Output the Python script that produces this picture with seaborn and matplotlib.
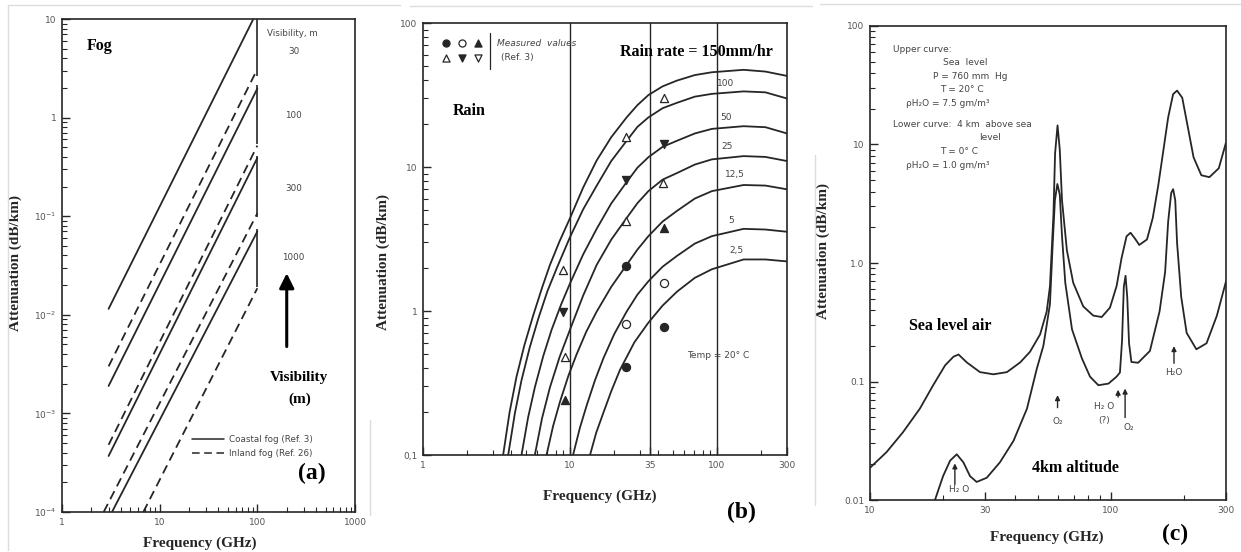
import numpy as np
import pandas as pd
import matplotlib.pyplot as plt
import seaborn as sns
from matplotlib.lines import Line2D
from matplotlib.ticker import FixedLocator, FixedFormatter, LogLocator, NullFormatter

sns.set_style('ticks')
plt.rcParams['font.family'] = ['DejaVu Sans']
plt.rcParams['mathtext.fontset'] = 'dejavusans'

INK = '#262626'
SERIF = 'Liberation Serif'

# ---------------- (a) fog : straight lines, end points
fog_visibility = ['30', '30', '100', '100', '300', '300', '1000', '1000']
fog_type = ['Coastal', 'Inland'] * 4
fog_f0 = [3.0, 3.0, 3.0, 3.0, 3.0, 2.67, 3.25, 6.8]
fog_a0 = [0.0115, 0.003, 0.0019, 4.8e-4, 3.7e-4, 1e-4, 1e-4, 1e-4]
fog_f1 = [91, 100, 100, 100, 100, 100, 100, 100]
fog_a1 = [10, 3.1, 1.97, 0.52, 0.39, 0.107, 0.07, 0.0186]
bracket_lo = [2.64, 0.54, 0.099, 0.019]
bracket_hi = [10, 2.14, 0.41, 0.074]
vis_labels = ['30', '100', '300', '1000']

# ---------------- (b) rain : attenuation curves per rain rate (mm/hr)
rain_rates = ['150', '100', '50', '25', '12,5', '5', '2,5']
f_150 = [3.51, 3.89, 4.33, 4.9, 5.62, 6.46, 7.31, 8.5, 10, 12.3, 15.2, 19.1, 24.3,
         28.8, 34.2, 42.7, 53.4, 70.8, 92.5, 152, 214, 300]
a_150 = [0.1, 0.2, 0.35, 0.58, 0.93, 1.45, 2.09, 3.05, 4.4, 7.2, 11.1, 16.1, 22.1,
         26.9, 31.6, 36.3, 39.8, 43.5, 45.5, 47.3, 46, 42.9]
f_100 = [3.8, 4.22, 4.68, 5.33, 6.08, 7.02, 8.11, 10, 12.3, 15.2, 19.1, 24.3, 28.8,
         34.2, 42.7, 53.4, 70.8, 92.5, 152, 214, 300]
a_100 = [0.1, 0.195, 0.33, 0.56, 0.88, 1.37, 1.97, 3.25, 5.08, 7.41, 11.0, 15.2, 19.0,
         22.1, 25.6, 27.9, 30.8, 32.2, 33.5, 33, 29.9]
f_50 = [4.68, 5.19, 5.77, 6.58, 7.5, 8.71, 10, 12.3, 15.2, 19.1, 24.3, 28.8, 34.2,
        42.7, 53.4, 70.8, 92.5, 152, 214, 300]
a_50 = [0.1, 0.182, 0.295, 0.486, 0.74, 1.11, 1.55, 2.47, 3.72, 5.58, 7.85, 9.89,
        11.7, 13.8, 15.2, 17.1, 18.4, 19.2, 18.9, 17.1]
f_25 = [5.77, 6.46, 7.31, 8.51, 10, 12.3, 15.2, 19.1, 24.3, 28.8, 34.2, 42.7, 53.4,
        70.8, 92.5, 152, 214, 300]
a_25 = [0.1, 0.18, 0.295, 0.48, 0.74, 1.28, 2.09, 3.13, 4.42, 5.61, 6.8, 8.17, 9.07,
        10.4, 11.3, 11.9, 11.75, 11.0]
f_12 = [6.93, 7.67, 8.55, 9.77, 11.1, 12.9, 15.2, 19.1, 24.3, 28.8, 34.2, 42.7, 53.4,
        70.8, 92.5, 152, 214, 300]
a_12 = [0.1, 0.158, 0.234, 0.356, 0.5, 0.716, 0.99, 1.47, 2.09, 2.67, 3.31, 4.18,
        4.95, 6.04, 6.8, 7.5, 7.43, 7.0]
f_5 = [10.5, 11.7, 13.0, 14.8, 16.9, 20, 24.3, 28.8, 34.2, 42.7, 53.4, 70.8, 92.5,
       152, 214, 300]
a_5 = [0.1, 0.155, 0.221, 0.33, 0.47, 0.69, 0.99, 1.30, 1.61, 2.03, 2.41, 2.94, 3.31,
       3.72, 3.68, 3.55]
f_2 = [13.7, 15.1, 16.9, 19.1, 21.9, 27.5, 34.2, 42.7, 53.4, 70.8, 92.5, 152, 214, 300]
a_2 = [0.1, 0.143, 0.197, 0.277, 0.39, 0.608, 0.83, 1.09, 1.36, 1.70, 1.95, 2.28,
       2.28, 2.21]
rain_f = [f_150, f_100, f_50, f_25, f_12, f_5, f_2]
rain_a = [a_150, a_100, a_50, a_25, a_12, a_5, a_2]
rate_labels = ['100', '50', '25', '12,5', '5', '2,5']

# measured values (Ref. 3)
meas_kind = ['o_full', 'o_full', 'o_full', 'o_open', 'o_open', '^_full', '^_full',
             '^_open', '^_open', '^_open', '^_open', '^_open', '^_open',
             'v_full', 'v_full', 'v_full']
meas_f = [24, 24, 44, 24, 44, 9.2, 44, 9.0, 9.2, 24, 24, 43, 44, 9.0, 24, 44]
meas_a = [2.04, 0.41, 0.78, 0.81, 1.57, 0.24, 3.8, 1.92, 0.48, 16.1, 4.2, 7.8, 30,
          0.98, 8.1, 14.5]

# ---------------- (c) atmospheric gases
sea_f = [10, 11.7, 13.7, 16.1, 18.3, 20.5, 22.2, 23.3, 25.2, 28.6, 32.5, 37.0, 42.0,
         46.1, 50.8, 54.1, 55.8, 57.7, 58.6, 60, 61.3, 62.6, 65.6, 69.7, 76.7, 84.4,
         91.5, 99, 105.5, 110.6, 116, 120.5, 125.9, 131, 141, 149, 157, 165, 172.6,
         181, 188, 197.5, 206, 220, 237, 256, 280, 300]
sea_a = [0.0187, 0.0253, 0.0373, 0.059, 0.0933, 0.137, 0.162, 0.169, 0.145, 0.12,
         0.115, 0.12, 0.145, 0.178, 0.25, 0.39, 0.635, 2.57, 8.4, 14.5, 9.0, 3.39,
         1.28, 0.68, 0.43, 0.36, 0.35, 0.42, 0.64, 1.1, 1.68, 1.8, 1.6, 1.42, 1.58,
         2.4, 4.5, 9.0, 16.9, 26.6, 28.5, 24.8, 15.8, 7.8, 5.5, 5.3, 6.3, 10.4]
alt_f = [18.6, 20.1, 21.5, 22.9, 24.4, 26, 27.7, 30.5, 34.6, 39.4, 44.8, 49.2, 52.4,
         54.1, 55.8, 57.3, 58.5, 59.9, 61.3, 62.6, 64.6, 68.9, 75.7, 81.8, 88.6, 97.6,
         105.5, 108.9, 111.1, 113, 114.9, 116.8, 118.8, 121.5, 129.6, 145, 159, 167.7,
         172.6, 177.7, 181, 184.7, 188, 195.6, 206, 226, 249, 275, 300]
alt_a = [0.01, 0.0159, 0.0215, 0.0243, 0.0208, 0.0159, 0.0142, 0.0154, 0.0208,
         0.0316, 0.059, 0.128, 0.2, 0.3, 0.45, 1.47, 3.39, 4.64, 3.78, 1.69, 0.68,
         0.275, 0.157, 0.11, 0.093, 0.096, 0.11, 0.119, 0.22, 0.63, 0.78, 0.51, 0.21,
         0.146, 0.144, 0.181, 0.39, 0.84, 2.23, 3.9, 4.2, 3.39, 1.47, 0.515, 0.257,
         0.187, 0.21, 0.36, 0.7]

fig = plt.figure(figsize=(12.41, 5.52), dpi=100)
ax_a = fig.add_axes([0.04996, 0.07246, 0.2361, 0.8931])
ax_b = fig.add_axes([0.34085, 0.17572, 0.29331, 0.78261])
ax_c = fig.add_axes([0.70105, 0.0942, 0.28687, 0.8587])


def style_axis(ax):
    ax.set_xscale('log')
    ax.set_yscale('log')
    ax.tick_params(which='both', direction='in', top=False, right=False,
                   color=INK, labelcolor='#555555', labelsize=6.5)
    ax.tick_params(which='major', length=6, width=1.0, pad=4)
    ax.tick_params(which='minor', length=3.5, width=0.8)
    for s in ax.spines.values():
        s.set_linewidth(1.2)
        s.set_color(INK)


def bold(ax, x, y, s, size=11, **kw):
    ax.text(x, y, s, transform=ax.transAxes, family=SERIF, weight='bold',
            fontsize=size, ha='center', va='center', color='black', **kw)


def axis_labels(ax, xy_x, xy_y):
    ax.set_ylabel('Attenuation (dB/km)', family=SERIF, weight='bold', fontsize=11)
    ax.yaxis.set_label_coords(*xy_y)
    ax.set_xlabel('Frequency (GHz)', family=SERIF, weight='bold', fontsize=11)
    ax.xaxis.set_label_coords(*xy_x)


for ax in (ax_a, ax_b, ax_c):
    style_axis(ax)

# ======== (a)
rows = []
for i in range(len(fog_type)):
    rows.append(dict(curve=i, fog=fog_type[i], freq=fog_f0[i], atten=fog_a0[i]))
    rows.append(dict(curve=i, fog=fog_type[i], freq=fog_f1[i], atten=fog_a1[i]))
fog_df = pd.DataFrame(rows)
sns.lineplot(data=fog_df, x='freq', y='atten', units='curve', estimator=None,
             style='fog', dashes={'Coastal': '', 'Inland': (5, 3)},
             color=INK, lw=1.3, legend=False, ax=ax_a)
ax_a.vlines([100] * 4, bracket_lo, bracket_hi, color=INK, lw=1.2)
ax_a.set_xlim(1, 1000)
ax_a.set_ylim(1e-4, 10)
ax_a.yaxis.set_major_locator(FixedLocator([1e-4, 1e-3, 1e-2, 1e-1, 1, 10]))
ax_a.yaxis.set_major_formatter(FixedFormatter(
    [r'$10^{-4}$', r'$10^{-3}$', r'$10^{-2}$', r'$10^{-1}$', '1', '10']))
ax_a.yaxis.set_minor_locator(LogLocator(base=10, subs=range(2, 10)))
ax_a.yaxis.set_minor_formatter(NullFormatter())
ax_a.xaxis.set_major_locator(FixedLocator([1, 10, 100, 1000]))
ax_a.xaxis.set_major_formatter(FixedFormatter(['1', '10', '100', '1000']))
ax_a.xaxis.set_minor_locator(LogLocator(base=10, subs=range(2, 10)))
ax_a.xaxis.set_minor_formatter(NullFormatter())

ax_a.text(0.70, 0.971, 'Visibility, m', transform=ax_a.transAxes, fontsize=6.3,
          color='#444444', va='center')
for lab, yy in zip(vis_labels, [0.935, 0.805, 0.657, 0.516]):
    ax_a.text(0.79, yy, lab, transform=ax_a.transAxes, fontsize=6.3,
              color='#444444', ha='center', va='center')
ax_a.annotate('', xy=(0.767, 0.49), xytext=(0.767, 0.33), xycoords='axes fraction',
              arrowprops=dict(arrowstyle='-|>', lw=2.2, color='black', mutation_scale=22))
bold(ax_a, 0.81, 0.273, 'Visibility')
bold(ax_a, 0.81, 0.228, '(m)')
bold(ax_a, 0.13, 0.946, 'Fog', size=11.5)
bold(ax_a, 0.853, 0.079, '(a)', size=17)
handles = [Line2D([], [], color=INK, lw=1.1),
           Line2D([], [], color=INK, lw=1.1, dashes=(5, 3))]
ax_a.legend(handles, ['Coastal fog (Ref. 3)', 'Inland fog (Ref. 26)'],
            loc='lower left', bbox_to_anchor=(0.43, 0.1), frameon=False,
            handlelength=3.6, fontsize=6.3, labelcolor='#444444',
            borderpad=0, labelspacing=0.6, handletextpad=0.6)
axis_labels(ax_a, (0.471, -0.05), (-0.135, 0.505))

# ======== (b)
rows = []
for rate, ff, aa in zip(rain_rates, rain_f, rain_a):
    for f, a in zip(ff, aa):
        rows.append(dict(rate=rate, freq=f, atten=a))
rain_df = pd.DataFrame(rows)
sns.lineplot(data=rain_df, x='freq', y='atten', units='rate', estimator=None,
             color=INK, lw=1.3, legend=False, sort=True, ax=ax_b)
for fx in [10, 35, 100]:
    ax_b.axvline(fx, color=INK, lw=1.0)

meas_df = pd.DataFrame(dict(kind=meas_kind, freq=meas_f, atten=meas_a))
marker_style = {'o_full': ('o', INK), 'o_open': ('o', 'white'),
                '^_full': ('^', INK), '^_open': ('^', 'white'),
                'v_full': ('v', INK), 'v_open': ('v', 'white')}
for kind, grp in meas_df.groupby('kind'):
    m, fc = marker_style[kind]
    sns.scatterplot(data=grp, x='freq', y='atten', marker=m, color=fc,
                    edgecolor=INK, linewidth=0.9, s=34, zorder=4, ax=ax_b)

# legend block for measured values
for i, kind in enumerate(['o_full', 'o_open', '^_full', '^_open', 'v_full', 'v_open']):
    m, fc = marker_style[kind]
    ax_b.scatter([0.062, 0.106, 0.151][i % 3], [0.953, 0.919][i // 3], marker=m,
                 s=26, color=fc, edgecolor=INK, linewidth=0.9,
                 transform=ax_b.transAxes, clip_on=False, zorder=5)
ax_b.plot([0.183, 0.183], [0.894, 0.977], color=INK, lw=0.9, transform=ax_b.transAxes)
ax_b.text(0.204, 0.953, 'Measured  values', transform=ax_b.transAxes, fontsize=6.5,
          style='italic', color='#444444', va='center')
ax_b.text(0.214, 0.919, '(Ref. 3)', transform=ax_b.transAxes, fontsize=6.5,
          color='#444444', va='center')
for lab, xx, yy in zip(rate_labels, [0.830, 0.833, 0.835, 0.858, 0.846, 0.861],
                       [0.859, 0.782, 0.715, 0.649, 0.543, 0.474]):
    ax_b.text(xx, yy, lab, transform=ax_b.transAxes, fontsize=6.5, color='#444444',
              ha='center', va='center')
ax_b.text(0.812, 0.230, 'Temp = 20° C', transform=ax_b.transAxes, fontsize=6.5,
          color='#444444', ha='center', va='center')
bold(ax_b, 0.128, 0.797, 'Rain', size=11.5)
bold(ax_b, 0.752, 0.932, 'Rain rate = 150mm/hr', size=11.5)
bold(ax_b, 0.876, -0.132, '(b)', size=17)

ax_b.set_xlim(1, 300)
ax_b.set_ylim(0.1, 100)
ax_b.xaxis.set_major_locator(FixedLocator([1, 10, 35, 100, 300]))
ax_b.xaxis.set_major_formatter(FixedFormatter(['1', '10', '35', '100', '300']))
ax_b.xaxis.set_minor_locator(FixedLocator([2, 3, 4, 5, 6, 7, 8, 9, 20, 30, 40, 50,
                                           60, 70, 80, 90, 200]))
ax_b.xaxis.set_minor_formatter(NullFormatter())
ax_b.yaxis.set_major_locator(FixedLocator([0.1, 1, 10, 100]))
ax_b.yaxis.set_major_formatter(FixedFormatter(['0,1', '1', '10', '100']))
ax_b.yaxis.set_minor_locator(LogLocator(base=10, subs=range(2, 10)))
ax_b.yaxis.set_minor_formatter(NullFormatter())
axis_labels(ax_b, (0.486, -0.079), (-0.09, 0.447))

# ======== (c)
gas_df = pd.concat([
    pd.DataFrame(dict(curve='Sea level air', freq=sea_f, atten=sea_a)),
    pd.DataFrame(dict(curve='4km altitude', freq=alt_f, atten=alt_a)),
])
sns.lineplot(data=gas_df, x='freq', y='atten', units='curve', estimator=None,
             color=INK, lw=1.3, legend=False, ax=ax_c)
ax_c.set_xlim(10, 300)
ax_c.set_ylim(0.01, 100)
ax_c.xaxis.set_major_locator(FixedLocator([10, 30, 100, 300]))
ax_c.xaxis.set_major_formatter(FixedFormatter(['10', '30', '100', '300']))
ax_c.xaxis.set_minor_locator(FixedLocator([20, 40, 50, 60, 70, 80, 90, 200]))
ax_c.xaxis.set_minor_formatter(NullFormatter())
ax_c.yaxis.set_major_locator(FixedLocator([0.01, 0.1, 1, 10, 100]))
ax_c.yaxis.set_major_formatter(FixedFormatter(['0.01', '0.1', '1.0', '10', '100']))
ax_c.yaxis.set_minor_locator(LogLocator(base=10, subs=range(2, 10)))
ax_c.yaxis.set_minor_formatter(NullFormatter())

note = dict(transform=ax_c.transAxes, fontsize=6.5, color='#444444', va='center')
ax_c.text(0.066, 0.951, 'Upper curve:', **note)
ax_c.text(0.267, 0.922, 'Sea  level', ha='center', **note)
ax_c.text(0.178, 0.894, 'P = 760 mm  Hg', **note)
ax_c.text(0.197, 0.867, 'T = 20° C', **note)
ax_c.text(0.101, 0.837, 'ρH₂O = 7.5 gm/m³', **note)
ax_c.text(0.066, 0.792, 'Lower curve:  4 km  above sea', **note)
ax_c.text(0.337, 0.765, 'level', ha='center', **note)
ax_c.text(0.197, 0.735, 'T = 0° C', **note)
ax_c.text(0.101, 0.705, 'ρH₂O = 1.0 gm/m³', **note)

arrow = dict(arrowstyle='-|>', lw=1.0, color=INK, mutation_scale=7)
small = dict(fontsize=6.5, color='#444444', ha='center', va='center')
ax_c.annotate('', xy=(60, 0.081), xytext=(60, 0.057), arrowprops=arrow)
ax_c.text(60, 0.046, 'O₂', **small)
ax_c.annotate('', xy=(22.5, 0.0215), xytext=(22.5, 0.0128), arrowprops=arrow)
ax_c.text(23.4, 0.0122, 'H₂ O', **small)
ax_c.annotate('', xy=(107, 0.09), xytext=(107, 0.07), arrowprops=arrow)
ax_c.text(94, 0.061, 'H₂ O', **small)
ax_c.text(94, 0.0465, '(?)', **small)
ax_c.annotate('', xy=(114.4, 0.092), xytext=(114.4, 0.047), arrowprops=arrow)
ax_c.text(119, 0.041, 'O₂', **small)
ax_c.annotate('', xy=(182.5, 0.21), xytext=(182.5, 0.135), arrowprops=arrow)
ax_c.text(182.5, 0.118, 'H₂O', **small)

bold(ax_c, 0.225, 0.367, 'Sea level air', size=11.5)
bold(ax_c, 0.578, 0.068, '4km altitude', size=11.5)
bold(ax_c, 0.857, -0.072, '(c)', size=17)
axis_labels(ax_c, (0.496, -0.065), (-0.112, 0.525))

# faint scan borders
W, H = 1241.0, 552.0
for (x0, y0, x1, y1) in [(8, 5, 400, 5), (410, 6, 812, 6), (820, 4, 1241, 4),
                         (8, 5, 8, 550), (370, 420, 370, 515), (815, 155, 815, 505)]:
    fig.add_artist(Line2D([x0 / W, x1 / W], [1 - y0 / H, 1 - y1 / H],
                          transform=fig.transFigure, color='#dcdcdc', lw=1.0))

fig.savefig('out.png', dpi=100)
